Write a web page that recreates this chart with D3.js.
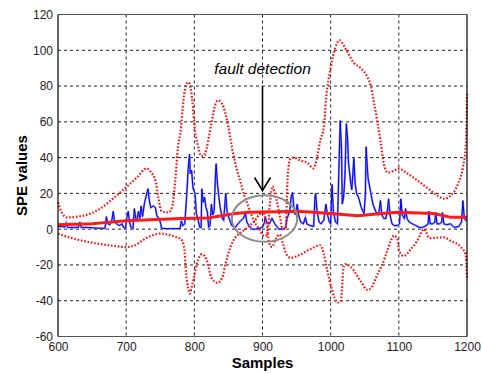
<!doctype html>
<html>
<head>
<meta charset="UTF-8">
<title>SPE values</title>
<style>
  body { margin: 0; background: #fff; }
  text { font-family: Arial, "Liberation Sans", sans-serif; }
</style>
</head>
<body onload="speChart()">
<div id="chart"></div>
<script src="https://cdn.jsdelivr.net/npm/d3@7"></script>
<script>
// tick labels
var xTicks = [600, 700, 800, 900, 1000, 1100, 1200];
var yTicks = [-60, -40, -20, 0, 20, 40, 60, 80, 100, 120];

// SPE values as [sample, value]
var spe = [[600,1.5],[605,1.5],[610,1.2],[612,3.5],[614,1],[625,1],[630,1],[632,4],[634,1],[645,1],[650,0.8],[660,0.5],[669,0.5],
  [671,7],[673,3],[676,2.5],[679,5],[681,10],[683,4],[686,3],[690,2],[694,3],[696,1],[699,0.3],[701,6.6],[703,10],[705,4],
  [707,1],[710,0.3],[712,11.5],[714,6],[716,5],[718,10],[720,6],[722,13],[724,7],[727,15],[729,18],[732,22.6],[734,16],
  [736,12],[740,13],[743,12],[745,7.5],[748,6],[750,4],[752,0.5],[760,0.3],[770,0.3],[779,0.3],[781,4.7],[783,2],[786,3],
  [789,20],[791,34],[793,42],[794,31],[796,33],[798,23],[801,20],[803,8.7],[805,6],[808,1],[810,1],[811,22.6],[813,15],
  [815,18],[817,12],[819,10],[821,1],[823,2],[825,14],[827,8],[829,10],[831,30],[832,36.6],[834,25],[836,18],[838,12],
  [841,6],[843,5],[846,20],[848,10],[851,6],[855,2],[860,1],[864,3],[868,4.7],[872,6],[875,8.7],[877,4],[880,2],[885,0],
  [890,0],[895,0.5],[900,1],[903,4],[904,6.6],[906,4],[910,3],[914,6],[918,3],[922,1],[924,0],[930,0],[934,1],[936,6],
  [940,10],[942,18],[944,20.6],[946,12],[948,8],[951,14],[953,8],[956,4],[960,3],[963,6.6],[965,3],[970,2],[975,1.5],
  [977,18],[978,20],[980,10],[983,4],[986,3],[990,5],[993,14],[995,8.7],[998,4],[1000,3],[1002,25],[1004,10],[1007,4],
  [1010,3],[1012,33],[1014,60.7],[1016,44],[1017,14],[1019,18],[1021,30],[1023,59],[1025,49.5],[1026,38],[1029,27],
  [1031,22],[1034,39.5],[1036,25],[1038,20],[1041,17.6],[1045,12],[1049,8.7],[1051,20],[1052,46],[1054,33],[1055,28],
  [1059,20],[1062,14],[1066,10],[1069,8],[1071,10],[1073,16],[1075,8],[1078,6],[1081,6],[1083,10],[1085,17],[1087,8],
  [1090,3],[1093,2],[1098,2],[1101,3],[1103,17],[1105,8],[1108,6],[1110,11.5],[1112,6],[1115,4],[1120,3],[1125,2],
  [1130,1],[1135,1],[1140,2],[1143,3],[1144,10],[1146,3],[1150,3],[1153,4],[1154,9.4],[1156,3],[1160,3],[1163,4],
  [1164,9.4],[1166,3],[1170,2.5],[1176,3],[1181,1],[1188,1.5],[1192,4],[1194,16],[1196,6],[1198,5],[1200,4.7]];

// mean line
var mean = [[600,2.5],[650,3],[672,3.8],[700,4.7],[735,5.3],[780,5.9],[820,6.3],[860,8.7],[880,9.4],[920,9.8],[950,10],
  [975,9.4],[1000,8.7],[1040,7.5],[1075,8.7],[1100,9.4],[1150,8.8],[1165,7.6],[1176,6.6],[1200,6.6]];

// upper control limit
var upper = [[600,15],[606,9],[613,6.6],[637,7.5],[662,11.5],[686,18.8],[700,23.4],[716,29],[730,34],[736,32],[743,27],
  [747,18],[752,10],[762,9.4],[767,12],[772,27],[776,46],[780,55],[784,72],[789,81.5],[792,82],[797,72],[801,55],
  [805,47],[810,41],[814,41],[818,45],[822,53],[826,61],[831,70],[835,72],[843,68],[850,57],[857,42],[862,34],[868,26],
  [873,19],[878,14],[887,5],[895,0],[903,-4],[907,-3],[911,15],[915,24],[918,20],[922,14],[926,6],[929,1],[934,0],
  [937,30],[941,39.5],[946,40],[955,38.5],[966,37],[975,34],[980,40],[985,50],[990,57],[993,72],[1000,90],[1007,101.6],
  [1013,105.6],[1019,102.7],[1026,98],[1034,93],[1044,90],[1054,85],[1059,80],[1063,72],[1069,59],[1073,49.5],
  [1078,36.6],[1084,31.6],[1093,32.7],[1100,33.8],[1113,31],[1128,27],[1143,22.6],[1157,18.7],[1166,17],[1176,18.7],
  [1187,25.5],[1194,34.4],[1198.5,48],[1199.5,62],[1200,76]];

// lower control limit
var lower = [[600,-2.5],[620,-5],[650,-7.5],[675,-9],[700,-10],[713,-9],[725,-6],[735,-4],[750,-2.5],[760,-3],[770,-4],
  [780,-5.5],[785,-10],[788,-25],[791,-33],[793,-36],[797,-31],[804,-19],[811,-14],[818,-17],[825,-27],[834,-30],
  [841,-27],[846,-19],[853,-10],[857,-6.5],[868,-2],[878,1],[887,4],[895,8],[900,10],[905,5],[910,-8],[914,-10],
  [920,-5],[925,-3],[930,-8],[935,-14],[941,-16],[951,-15],[971,-11],[985,-9],[990,-14],[995,-23],[1002,-34],[1010,-41],
  [1015,-40],[1019,-21],[1022,-19.5],[1029,-21],[1044,-29],[1054,-34],[1059,-33],[1069,-25],[1076,-19.5],[1083,-12],
  [1088,-6.5],[1093,-3.6],[1099,-6.5],[1100,-12],[1107,-15],[1118,-11],[1127,-6.5],[1137,0],[1145,-5],[1166,-4.6],
  [1176,-6.5],[1191,-10],[1198,-14],[1200,-27]];

// fault detection marks
var faultSample = 903, faultValue = 5.9, faultRx = 48, faultRy = 13;
var arrowTop = 80, arrowTip = 21.6;

function speChart(){
  var width = 482, height = 374;
  var left = 58, right = 467, top = 14.5, bottom = 336.5;

  var svg = d3.select("#chart")
    .append("svg")
      .attr("width", width)
      .attr("height", height);

  var x = d3.scaleLinear().domain([600, 1200]).range([left, right]);
  var y = d3.scaleLinear().domain([-60, 120]).range([bottom, top]);

  // grid
  svg.append("g")
    .selectAll("line")
    .data(xTicks.slice(1, -1))
    .join("line")
      .attr("x1", function(d) { return x(d); })
      .attr("x2", function(d) { return x(d); })
      .attr("y1", top)
      .attr("y2", bottom)
      .attr("stroke", "#222")
      .attr("stroke-dasharray", "3,3");
  svg.append("g")
    .selectAll("line")
    .data(yTicks.slice(1, -1))
    .join("line")
      .attr("x1", left)
      .attr("x2", right)
      .attr("y1", function(d) { return y(d); })
      .attr("y2", function(d) { return y(d); })
      .attr("stroke", "#222")
      .attr("stroke-dasharray", "3,3");

  var line = d3.line()
    .x(function(d) { return x(d[0]); })
    .y(function(d) { return y(d[1]); });

  var plot = svg.append("g");

  // SPE trace
  plot.append("path")
    .attr("d", line(spe))
    .attr("fill", "none")
    .attr("stroke", "#8a8aff")
    .attr("stroke-width", 2);
  plot.append("path")
    .attr("d", line(spe))
    .attr("fill", "none")
    .attr("stroke", "#0000f0")
    .attr("stroke-width", 1);

  // limits
  [upper, lower].forEach(function(lim) {
    plot.append("path")
      .attr("d", line.curve(d3.curveMonotoneX)(lim))
      .attr("fill", "none")
      .attr("stroke", "#ff1010")
      .attr("stroke-width", 2.2)
      .attr("stroke-dasharray", "1.6,1.8");
  });
  line.curve(d3.curveLinear);

  plot.append("path")
    .attr("d", line(mean))
    .attr("fill", "none")
    .attr("stroke", "#ff1a1a")
    .attr("stroke-width", 3);

  // circle around the detection
  plot.append("ellipse")
    .attr("cx", x(faultSample))
    .attr("cy", y(faultValue))
    .attr("rx", x(faultSample + faultRx) - x(faultSample))
    .attr("ry", y(0) - y(faultRy))
    .attr("fill", "none")
    .attr("stroke", "#8c8c8c")
    .attr("stroke-width", 2);

  // arrow
  var ax = x(900);
  plot.append("line")
    .attr("x1", ax).attr("x2", ax)
    .attr("y1", y(arrowTop)).attr("y2", y(arrowTip))
    .attr("stroke", "#000")
    .attr("stroke-width", 1.6);
  plot.append("path")
    .attr("d", "M" + (ax - 8) + "," + (y(arrowTip) - 13) + "L" + ax + "," + y(arrowTip) + "L" + (ax + 8) + "," + (y(arrowTip) - 13))
    .attr("fill", "none")
    .attr("stroke", "#000")
    .attr("stroke-width", 1.6);
  svg.append("text")
    .attr("x", ax)
    .attr("y", 74)
    .attr("text-anchor", "middle")
    .style("font-style", "italic")
    .style("font-size", "15.5px")
    .text("fault detection");

  // box
  svg.append("line").attr("x1", left).attr("x2", right).attr("y1", top).attr("y2", top).attr("stroke", "#555").attr("stroke-width", 1.2);
  svg.append("line").attr("x1", left).attr("x2", right).attr("y1", bottom).attr("y2", bottom).attr("stroke", "#555").attr("stroke-width", 1.2);
  svg.append("line").attr("x1", left).attr("x2", left).attr("y1", top).attr("y2", bottom).attr("stroke", "#000").attr("stroke-width", 1.2);
  svg.append("line").attr("x1", right).attr("x2", right).attr("y1", top).attr("y2", bottom).attr("stroke", "#000").attr("stroke-width", 1.2);

  // axes, plain hyphen minus and no thousands separator
  var plain = function(d) { return String(d); };
  var xAxis = svg.append("g")
    .attr("transform", "translate(0," + bottom + ")")
    .call(d3.axisBottom(x).tickValues(xTicks).tickFormat(plain).tickSize(0).tickPadding(6));
  var yAxis = svg.append("g")
    .attr("transform", "translate(" + left + ",0)")
    .call(d3.axisLeft(y).tickValues(yTicks).tickFormat(plain).tickSize(0).tickPadding(5));
  [xAxis, yAxis].forEach(function(a) {
    a.select(".domain").remove();
    a.selectAll("text")
      .attr("fill", "#222")
      .style("font-size", "12px")
      .style("font-family", "Arial, 'Liberation Sans', sans-serif");
  });

  svg.append("text")
    .attr("x", (left + right) / 2)
    .attr("y", 368)
    .attr("text-anchor", "middle")
    .style("font-weight", "bold")
    .style("font-size", "15px")
    .text("Samples");
  svg.append("text")
    .attr("transform", "translate(27," + ((top + bottom) / 2) + ") rotate(-90)")
    .attr("text-anchor", "middle")
    .style("font-weight", "bold")
    .style("font-size", "15px")
    .text("SPE values");
}
</script>
</body>
</html>
